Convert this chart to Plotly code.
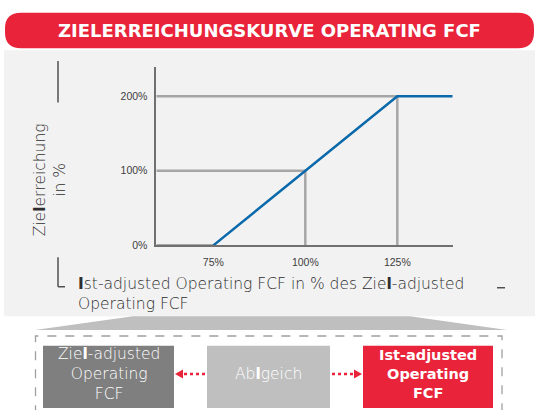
import plotly.graph_objects as go

W, H = 535, 410

# ---- data ----
curve_x = [75, 125, 140.4]
curve_y = [0, 200, 200]
ref_x = [75, 100, 125]
ref_y = [0, 100, 200]
x_tickvals = [75, 100, 125]
x_ticktext = ["75%", "100%", "125%"]
y_tickvals = [0, 100, 200]
y_ticktext = ["0%", "100%", "200%"]
x_range = [59.5, 140]
y_range = [0, 239]

title_text = "ZIELERREICHUNGSKURVE OPERATING FCF"
y_title = "Zie<b>l</b>erreichung<br>in %"
x_title = "<b>I</b>st-adjusted Operating FCF in % des Zie<b>l</b>-adjusted<br>Operating FCF"
box_labels = ["Zie<b>l</b>-adjusted<br>Operating<br>FCF", "Ab<b>l</b>geich",
              "<b>Ist-adjusted<br>Operating<br>FCF</b>"]

RED = "#e8233a"
GRID = "#a6a6a6"
BLUE = "#0a69aa"
TXT = "#2e2e2e"
TICK = "#404040"
FONT = "DejaVu Sans"


def px(x):
    return x / W


def py(y):
    return 1 - y / H


fig = go.Figure()

for xv, yv in zip(ref_x[1:], ref_y[1:]):
    fig.add_trace(go.Scatter(x=[x_range[0], xv, xv], y=[yv, yv, 0], mode="lines",
                             line=dict(color=GRID, width=2.5), hoverinfo="skip",
                             showlegend=False, cliponaxis=False))
fig.add_trace(go.Scatter(x=[x_range[0], ref_x[0]], y=[0, 0], mode="lines",
                         line=dict(color=GRID, width=2.5), hoverinfo="skip",
                         showlegend=False, cliponaxis=False))
fig.add_trace(go.Scatter(x=curve_x, y=curve_y, mode="lines",
                         line=dict(color=BLUE, width=2.5), hoverinfo="skip",
                         showlegend=False, cliponaxis=False))

shapes = []
shapes.append(dict(type="rect", xref="paper", yref="paper", x0=px(4), x1=px(540),
                   y0=py(321), y1=py(51), fillcolor="#f2f2f2", line=dict(width=0), layer="below"))


def rrect(x0, y0, x1, y1, r):
    return (f"M {px(x0 + r)},{py(y0)} L {px(x1 - r)},{py(y0)} "
            f"Q {px(x1)},{py(y0)} {px(x1)},{py(y0 + r)} L {px(x1)},{py(y1 - r)} "
            f"Q {px(x1)},{py(y1)} {px(x1 - r)},{py(y1)} L {px(x0 + r)},{py(y1)} "
            f"Q {px(x0)},{py(y1)} {px(x0)},{py(y1 - r)} L {px(x0)},{py(y0 + r)} "
            f"Q {px(x0)},{py(y0)} {px(x0 + r)},{py(y0)} Z")


shapes.append(dict(type="path", xref="paper", yref="paper", path=rrect(5, 13, 534, 49, 16),
                   fillcolor=RED, line=dict(width=0)))

dec = dict(color="#505050", width=1.5)
shapes.append(dict(type="line", xref="paper", yref="paper", x0=px(58), x1=px(58), y0=py(62), y1=py(104), line=dec))
shapes.append(dict(type="line", xref="paper", yref="paper", x0=px(58), x1=px(58), y0=py(261), y1=py(291), line=dec))
shapes.append(dict(type="line", xref="paper", yref="paper", x0=px(58), x1=px(65), y0=py(291), y1=py(291), line=dec))
shapes.append(dict(type="line", xref="paper", yref="paper", x0=px(497), x1=px(505), y0=py(292), y1=py(292), line=dec))

shapes.append(dict(type="path", xref="paper", yref="paper",
                   path=f"M {px(133)},{py(321)} L {px(410)},{py(321)} L {px(507)},{py(335)} L {px(35)},{py(335)} Z",
                   fillcolor="#bfbfbf", line=dict(width=0)))
shapes.append(dict(type="rect", xref="paper", yref="paper", x0=px(35.5), x1=px(502), y0=py(420), y1=py(341),
                   line=dict(color="#a0a0a0", width=1.3, dash="dash"), fillcolor="rgba(0,0,0,0)"))
box_geo = [(43, 174, "#7f7f7f"), (207, 330, "#bfbfbf"), (363, 493, RED)]
for x0, x1, c in box_geo:
    shapes.append(dict(type="rect", xref="paper", yref="paper", x0=px(x0), x1=px(x1), y0=py(414), y1=py(351),
                       fillcolor=c, line=dict(width=0)))
ay = 379.5
shapes.append(dict(type="line", xref="paper", yref="paper", x0=px(205), x1=px(182), y0=py(ay), y1=py(ay),
                   line=dict(color=RED, width=2.5, dash="dot")))
shapes.append(dict(type="path", xref="paper", yref="paper",
                   path=f"M {px(175)},{py(ay)} L {px(183)},{py(ay - 4.5)} L {px(183)},{py(ay + 4.5)} Z",
                   fillcolor=RED, line=dict(width=0)))
shapes.append(dict(type="line", xref="paper", yref="paper", x0=px(332), x1=px(354), y0=py(ay), y1=py(ay),
                   line=dict(color=RED, width=2.5, dash="dot")))
shapes.append(dict(type="path", xref="paper", yref="paper",
                   path=f"M {px(362)},{py(ay)} L {px(354)},{py(ay - 4.5)} L {px(354)},{py(ay + 4.5)} Z",
                   fillcolor=RED, line=dict(width=0)))

annotations = []
annotations.append(dict(x=px(269), y=py(31), xref="paper", yref="paper", text=f"<b>{title_text}</b>",
                        showarrow=False, font=dict(family=FONT, size=18, color="white"),
                        xanchor="center", yanchor="middle"))
annotations.append(dict(x=px(50), y=py(183), xref="paper", yref="paper", text=y_title, textangle=-90,
                        showarrow=False, font=dict(family=FONT, size=15.5, color=TXT, weight=200),
                        xanchor="center", yanchor="middle"))
annotations.append(dict(x=px(76), y=py(277), xref="paper", yref="paper", text=x_title, align="left",
                        showarrow=False, font=dict(family=FONT, size=15.5, color=TXT, weight=200),
                        xanchor="left", yanchor="top"))
for i, ((x0, x1, c), lab) in enumerate(zip(box_geo, box_labels)):
    annotations.append(dict(x=px((x0 + x1) / 2), y=py(380), xref="paper", yref="paper", text=lab,
                            showarrow=False,
                            font=dict(family=FONT, size=14.5 if i == 2 else 15.5, color="white",
                                      weight=700 if i == 2 else 200),
                            xanchor="center", yanchor="middle"))

fig.update_layout(
    width=W, height=H,
    margin=dict(l=0, r=0, t=0, b=0),
    paper_bgcolor="white", plot_bgcolor="rgba(0,0,0,0)",
    shapes=shapes, annotations=annotations,
    xaxis=dict(domain=[px(156.3), px(452.5)], range=x_range, showgrid=False, zeroline=False,
               showline=True, linecolor="#707070", linewidth=1.5,
               tickvals=x_tickvals, ticktext=x_ticktext, ticks="", ticklabelstandoff=6,
               tickfont=dict(family="Liberation Sans", size=10.5, color=TICK), fixedrange=True),
    yaxis=dict(domain=[py(249), py(68.2)], range=y_range, showgrid=False, zeroline=False,
               showline=True, linecolor="#707070", linewidth=1.5,
               tickvals=y_tickvals, ticktext=y_ticktext, ticks="", ticklabelstandoff=5,
               tickfont=dict(family="Liberation Sans", size=10.5, color=TICK), fixedrange=True),
)

fig.write_html("out.html", config={"displayModeBar": False},
               post_script="document.body.style.margin='0';document.body.style.overflow='hidden';")
